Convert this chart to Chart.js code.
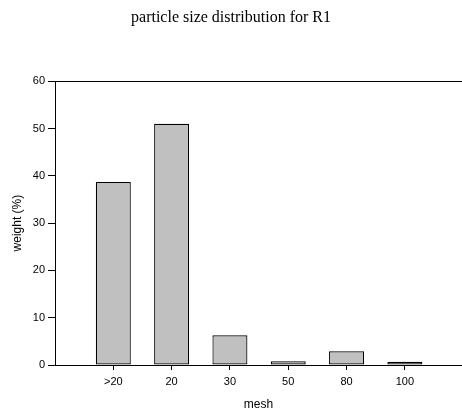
<!DOCTYPE html>
<html>
<head>
<meta charset="utf-8">
<script src="https://cdn.jsdelivr.net/npm/chart.js@4"></script>
<style>
  html, body { margin: 0; padding: 0; background: #fff; }
  #wrap { width: 462px; height: 417px; }
</style>
</head>
<body>
<div id="wrap"><canvas id="myChart"></canvas></div>
<script>
// mesh classes and weight fractions (%)
var meshLabels = ['>20', '20', '30', '50', '80', '100'];
var weightPct = [38.7, 51.0, 6.3, 0.8, 2.9, 0.7];
var yTicks = [0, 10, 20, 30, 40, 50, 60];

var ctx = document.getElementById('myChart').getContext('2d');

var points = meshLabels.map(function (m, i) {
    return { x: i, y: weightPct[i] };
});

var myChart = new Chart(ctx, {
    type: 'bar',
    data: {
        datasets: [{
            label: 'weight',
            data: points,
            backgroundColor: '#c0c0c0',
            borderColor: '#000',
            borderWidth: 1.2,
            borderSkipped: false,
            barPercentage: 0.6,
            categoryPercentage: 1
        }]
    },
    options: {
        responsive: true,
        maintainAspectRatio: false,
        animation: false,
        layout: { padding: 0 },
        plugins: {
            legend: { display: false },
            tooltip: { enabled: false },
            title: {
                display: true,
                text: 'particle size distribution for R1',
                color: '#000',
                font: { family: 'Liberation Serif', size: 16, weight: 'normal' },
                padding: { top: 8, bottom: 54 }
            }
        },
        scales: {
            x: {
                type: 'linear',
                min: -1,
                max: 5.98,
                offset: false,
                afterBuildTicks: function (scale) {
                    scale.ticks = meshLabels.map(function (m, i) { return { value: i }; });
                },
                afterFit: function (scale) { scale.height = 52; },
                ticks: {
                    color: '#000',
                    font: { family: 'Liberation Sans', size: 11 },
                    padding: 5,
                    maxRotation: 0,
                    autoSkip: false,
                    callback: function (v) { return meshLabels[v]; }
                },
                grid: { offset: false, drawOnChartArea: false, drawTicks: true, tickLength: 5, tickColor: '#000' },
                border: { display: true, color: '#000', width: 1 },
                title: {
                    display: true,
                    text: 'mesh',
                    color: '#000',
                    font: { family: 'Liberation Sans', size: 12 },
                    padding: { top: 0, bottom: 5 }
                }
            },
            y: {
                min: 0,
                max: 60,
                afterBuildTicks: function (scale) {
                    scale.ticks = yTicks.map(function (v) { return { value: v }; });
                },
                afterFit: function (scale) { scale.width = 55; },
                ticks: {
                    color: '#000',
                    font: { family: 'Liberation Sans', size: 11 },
                    padding: 3
                },
                grid: {
                    drawTicks: true,
                    tickLength: 7,
                    tickColor: '#000',
                    color: function (c) { return c.tick && c.tick.value === 60 ? '#000' : 'rgba(0,0,0,0)'; }
                },
                border: { display: true, color: '#000', width: 1 },
                title: {
                    display: true,
                    text: 'weight (%)',
                    color: '#000',
                    font: { family: 'Liberation Sans', size: 12 },
                    padding: { top: 10, bottom: 0 }
                }
            }
        }
    }
});
</script>
</body>
</html>
